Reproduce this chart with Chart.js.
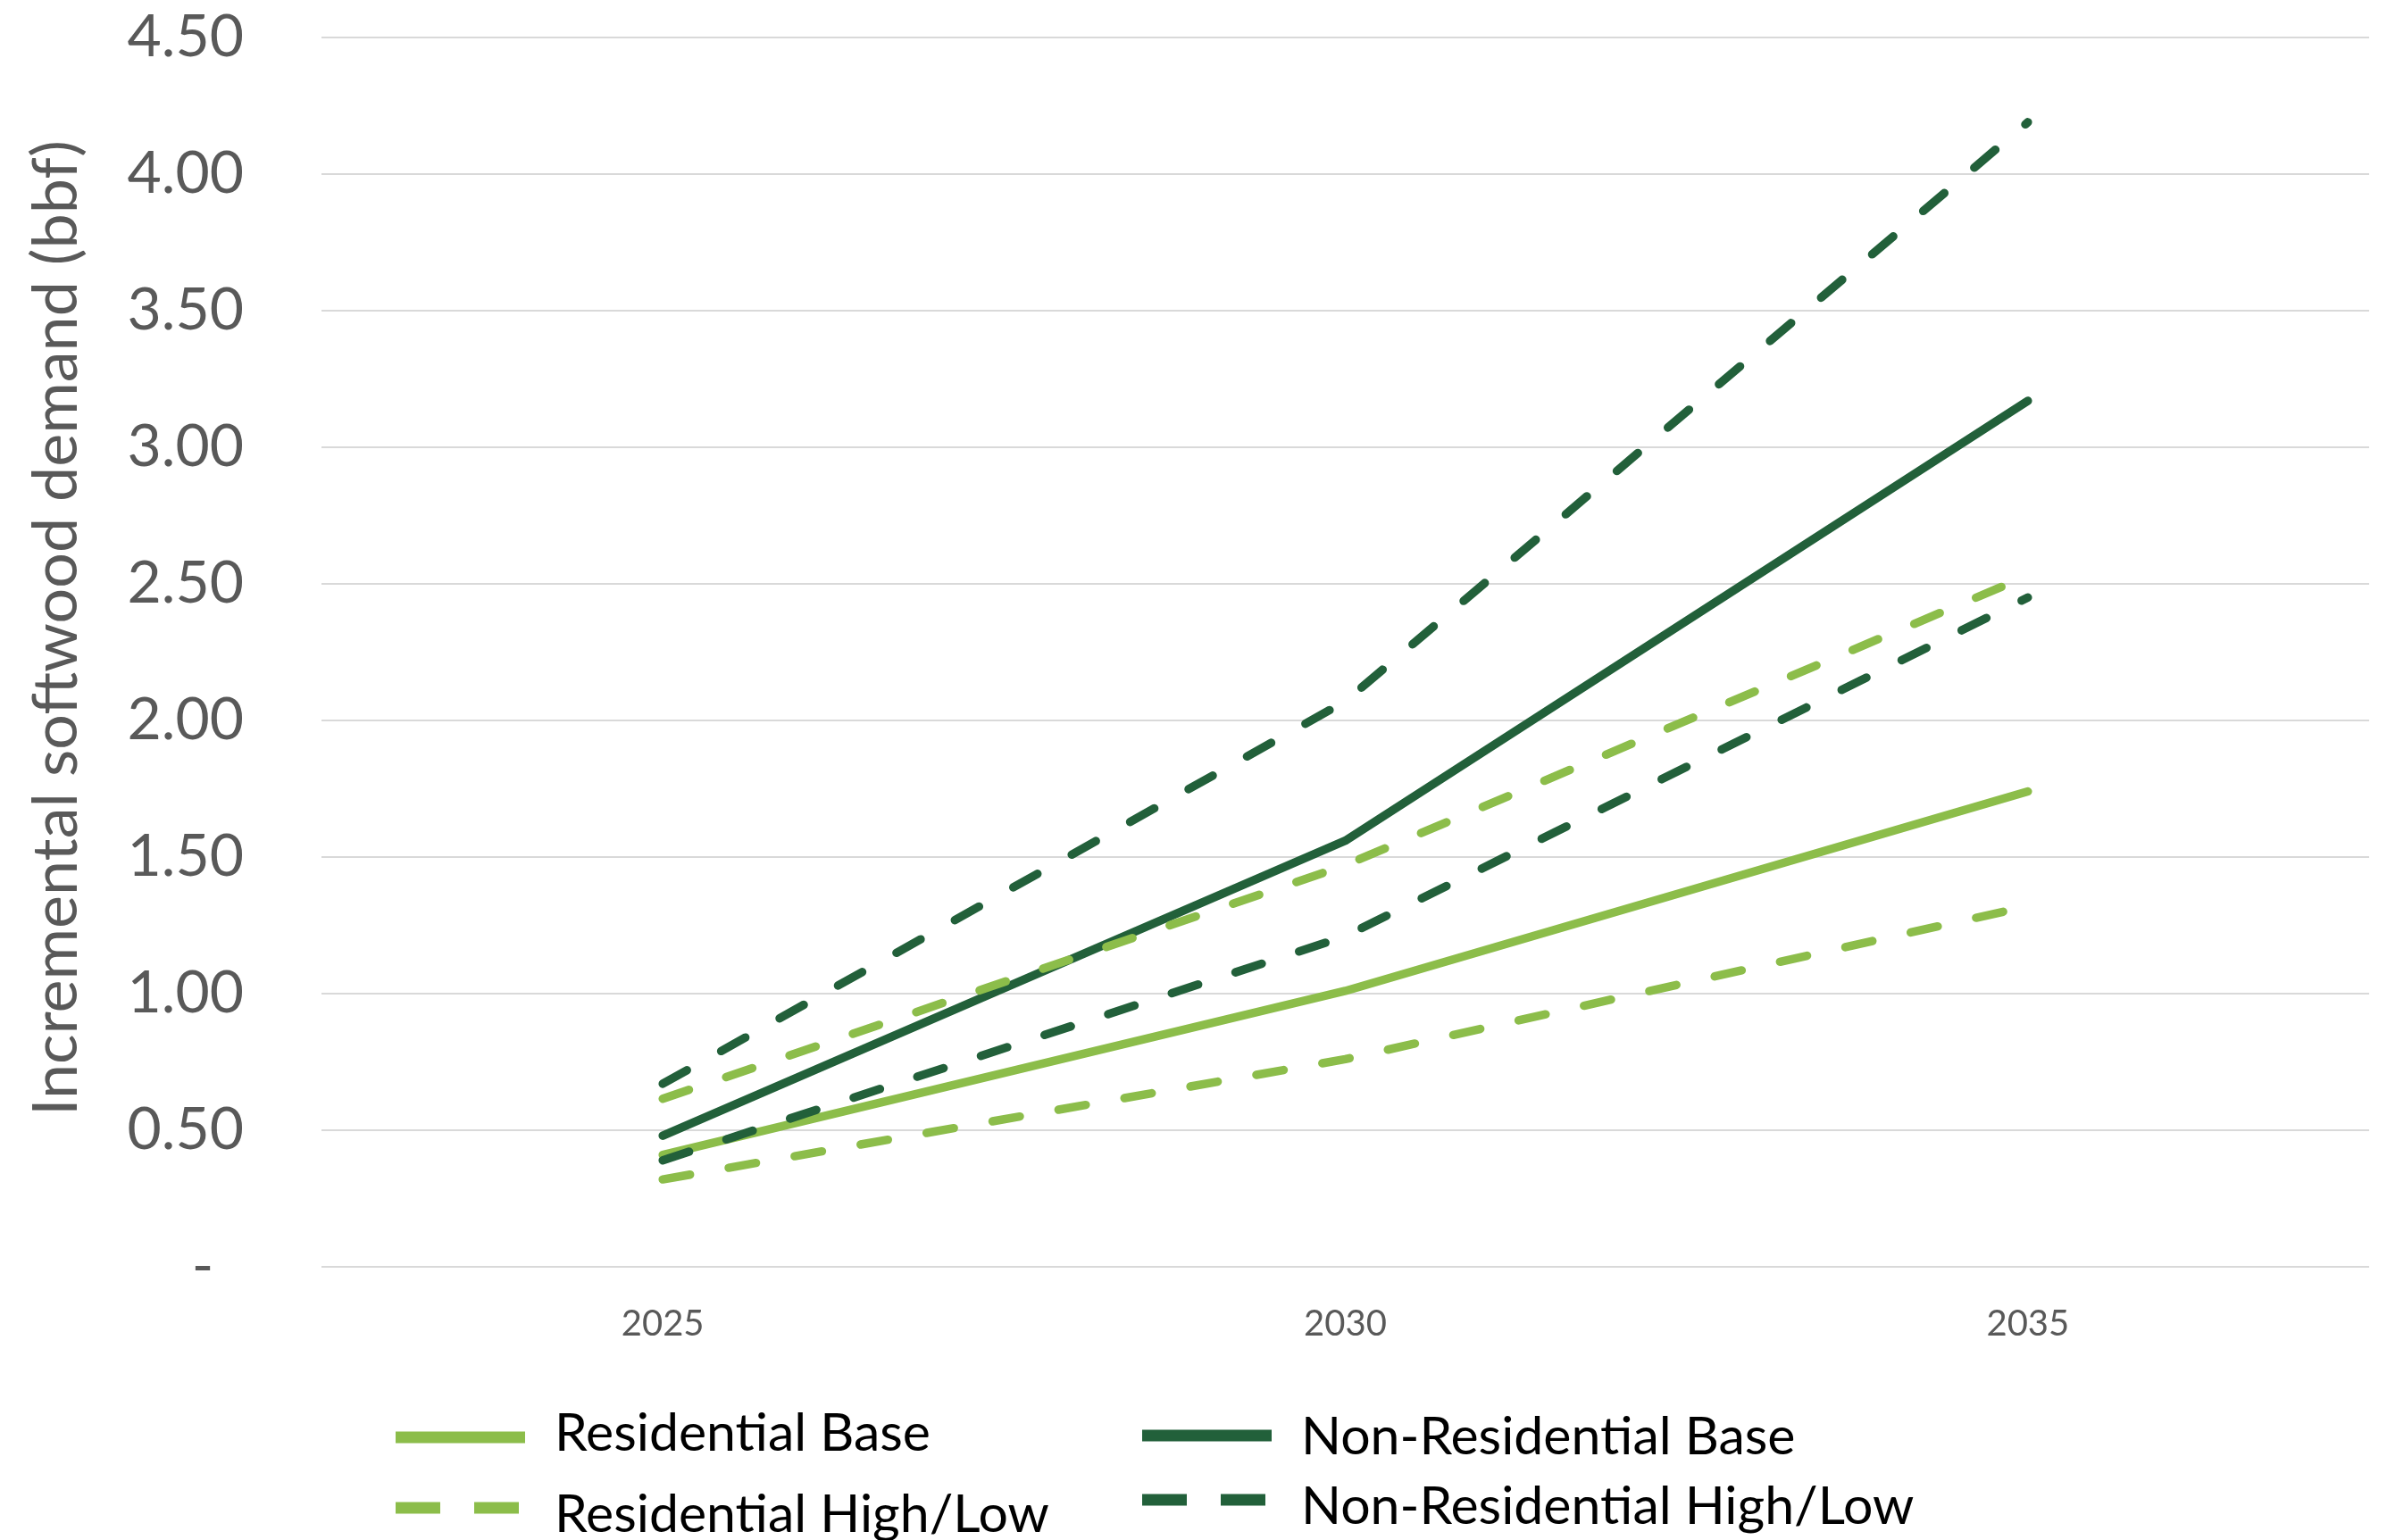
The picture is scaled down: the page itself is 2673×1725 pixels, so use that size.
<!DOCTYPE html>
<html>
<head>
<meta charset="utf-8">
<script src="https://cdn.jsdelivr.net/npm/chart.js@4.4.1/dist/chart.umd.min.js"></script>
<style>
  body { margin: 0; background: #fff; }
  #wrap { width: 2673px; height: 1725px; position: relative; }
</style>
</head>
<body>
<div id="wrap"><canvas id="lineChart"></canvas></div>
<script>
// values (bbf)
var years = ['2025', '2030', '2035'];
var resBase = [0.41, 1.01, 1.74];
var resHigh = [0.615, 1.47, 2.53];
var resLow = [0.32, 0.76, 1.32];
var nonResBase = [0.48, 1.56, 3.17];
var nonResHigh = [0.67, 2.07, 4.19];
var nonResLow = [0.39, 1.21, 2.45];
var legendLabels = ['Residential Base', 'Non-Residential Base', 'Residential High/Low', 'Non-Residential High/Low'];

var light = '#8cbd4a';
var dark = '#22603a';
var dash = [31, 44];

function series(label, data, color, dashed) {
  return {
    label: label,
    data: data,
    fill: false,
    tension: 0,
    borderColor: color,
    backgroundColor: color,
    borderWidth: 9.5,
    borderCapStyle: 'round',
    borderJoinStyle: 'round',
    borderDash: dashed ? dash : [],
    pointRadius: 0,
    pointHoverRadius: 0
  };
}

// custom 2x2 legend like the original
var legendBox = {
  id: 'legendBox',
  afterDraw: function (chart) {
    var ctx = chart.ctx;
    var items = [
      { text: legendLabels[0], color: light, dashed: false, x: 443, ly: 1610, ty: 1606 },
      { text: legendLabels[1], color: dark, dashed: false, x: 1279, ly: 1608, ty: 1610 },
      { text: legendLabels[2], color: light, dashed: true, x: 443, ly: 1689, ty: 1697 },
      { text: legendLabels[3], color: dark, dashed: true, x: 1279, ly: 1680, ty: 1688 }
    ];
    ctx.save();
    items.forEach(function (it) {
      ctx.strokeStyle = it.color;
      ctx.lineWidth = 13;
      ctx.lineCap = 'butt';
      ctx.setLineDash(it.dashed ? [50, 38] : []);
      ctx.beginPath();
      ctx.moveTo(it.x, it.ly);
      ctx.lineTo(it.x + (it.dashed ? 138 : 145), it.ly);
      ctx.stroke();
      ctx.setLineDash([]);
      ctx.fillStyle = '#000';
      ctx.font = '59px Lato';
      ctx.textBaseline = 'middle';
      ctx.textAlign = 'left';
      ctx.fillText(it.text, it.x + 178, it.ty);
    });
    ctx.restore();
  }
};

var lineChart = document.getElementById('lineChart');
var myLineChart = new Chart(lineChart, {
  type: 'line',
  data: {
    labels: years,
    datasets: [
      series('Residential Base', resBase, light, false),
      series('Non-Residential Base', nonResBase, dark, false),
      series('Residential High', resHigh, light, true),
      series('Non-Residential High', nonResHigh, dark, true),
      series('Residential Low', resLow, light, true),
      series('Non-Residential Low', nonResLow, dark, true)
    ].map(function (d, i) { d.order = 6 - i; return d; })
  },
  options: {
    responsive: true,
    maintainAspectRatio: false,
    animation: false,
    layout: { padding: { top: 42, right: 20, bottom: 0, left: 0 } },
    plugins: {
      legend: { display: false },
      tooltip: { enabled: false }
    },
    scales: {
      x: {
        offset: true,
        grid: { display: false, drawTicks: false },
        border: { display: false },
        ticks: {
          color: '#595959',
          font: { family: 'Lato', size: 40 },
          padding: 40
        },
        afterFit: function (scale) { scale.height = 306; }
      },
      y: {
        min: 0,
        max: 4.5,
        grid: {
          color: '#d9d9d9',
          lineWidth: 2,
          drawTicks: true,
          tickLength: 87,
          tickColor: 'rgba(0,0,0,0)'
        },
        border: { display: false },
        ticks: {
          stepSize: 0.5,
          color: '#595959',
          font: { family: 'Lato', size: 66 },
          padding: 0,
          callback: function (v) { return v === 0 ? '-  ' : v.toFixed(2); }
        },
        title: {
          display: true,
          text: '   Incremental softwood demand (bbf)',
          color: '#595959',
          font: { family: 'Lato', size: 70 },
          padding: { top: 21, bottom: 0 }
        },
        afterFit: function (scale) { scale.width = 360; }
      }
    }
  },
  plugins: [legendBox]
});
</script>
</body>
</html>
